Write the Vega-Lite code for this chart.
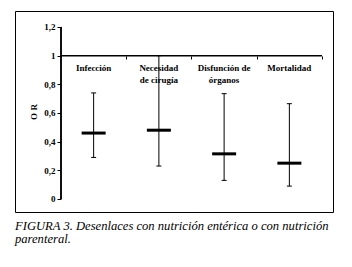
{
  "$schema": "https://vega.github.io/schema/vega-lite/v6.json",
  "autosize": {"type": "none"},
  "padding": {"left": 15, "top": 11, "right": 19, "bottom": 55},
  "width": 318,
  "height": 201,
  "background": "white",
  "view": {"stroke": "black", "strokeWidth": 1},
  "title": {
    "text": ["FIGURA 3. Desenlaces con nutrición entérica o con nutrición", "parenteral."],
    "orient": "bottom",
    "anchor": "start",
    "font": "Liberation Serif",
    "fontStyle": "italic",
    "fontWeight": "normal",
    "fontSize": 12.6,
    "color": "black",
    "offset": 8,
    "lineHeight": 13
  },
  "data": {
    "values": [
      {"cat": "Infección", "label": "Infección", "x": 0.5, "or": 0.46, "lo": 0.29, "hi": 0.74},
      {"cat": "Necesidad de cirugía", "label": "Necesidad\nde cirugía", "x": 1.5, "or": 0.48, "lo": 0.23, "hi": 1.0},
      {"cat": "Disfunción de órganos", "label": "Disfunción de\nórganos", "x": 2.5, "or": 0.315, "lo": 0.13, "hi": 0.735},
      {"cat": "Mortalidad", "label": "Mortalidad", "x": 3.5, "or": 0.25, "lo": 0.09, "hi": 0.665}
    ]
  },
  "encoding": {
    "x": {
      "field": "x", "type": "quantitative",
      "scale": {"domain": [-0.705, 4.1686], "nice": false, "zero": false},
      "axis": {
        "orient": "bottom", "offset": -156, "values": [1, 2, 3, 4],
        "domain": false, "labels": false, "grid": false, "title": null,
        "tickSize": 3, "tickColor": "black", "tickWidth": 1
      }
    },
    "y": {
      "field": "or", "type": "quantitative",
      "scale": {"domain": [-0.0907, 1.3116], "nice": false, "zero": false},
      "axis": {
        "orient": "left", "offset": -46, "values": [0, 0.2, 0.4, 0.6, 0.8, 1, 1.2],
        "labelExpr": "replace(toString(datum.value), '.', ',')",
        "domain": false, "grid": false, "tickSize": 4, "tickColor": "black", "tickWidth": 1,
        "labelFont": "Liberation Serif", "labelFontWeight": "bold", "labelFontSize": 9, "labelColor": "black",
        "labelPadding": 2,
        "title": "O R", "titleFont": "Liberation Serif", "titleFontWeight": "bold", "titleFontSize": 9,
        "titleColor": "black", "titlePadding": 5
      }
    }
  },
  "layer": [
    {
      "mark": {"type": "rule", "color": "black", "strokeWidth": 1},
      "encoding": {"x": {"datum": 0}, "y": {"datum": 0}, "y2": {"datum": 1.2}}
    },
    {
      "mark": {"type": "rule", "color": "black", "strokeWidth": 1},
      "encoding": {"y": {"datum": 1}, "x": {"datum": 0}, "x2": {"datum": 4}}
    },
    {
      "mark": {"type": "rule", "color": "black", "strokeWidth": 1},
      "encoding": {"y": {"field": "lo", "type": "quantitative"}, "y2": {"field": "hi"}}
    },
    {
      "mark": {"type": "tick", "orient": "horizontal", "color": "black", "size": 5, "thickness": 1, "opacity": 1},
      "encoding": {"y": {"field": "lo", "type": "quantitative"}}
    },
    {
      "mark": {"type": "tick", "orient": "horizontal", "color": "black", "size": 5, "thickness": 1, "opacity": 1},
      "encoding": {"y": {"field": "hi", "type": "quantitative"}}
    },
    {
      "mark": {"type": "tick", "orient": "horizontal", "color": "black", "size": 24, "thickness": 3, "opacity": 1},
      "encoding": {"y": {"field": "or", "type": "quantitative"}}
    },
    {
      "mark": {"type": "text", "font": "Liberation Serif", "fontWeight": "bold", "fontSize": 9, "color": "black",
               "baseline": "top", "align": "center", "lineBreak": "\n", "lineHeight": 12},
      "encoding": {"y": {"datum": 0.94}, "text": {"field": "label"}}
    }
  ]
}
